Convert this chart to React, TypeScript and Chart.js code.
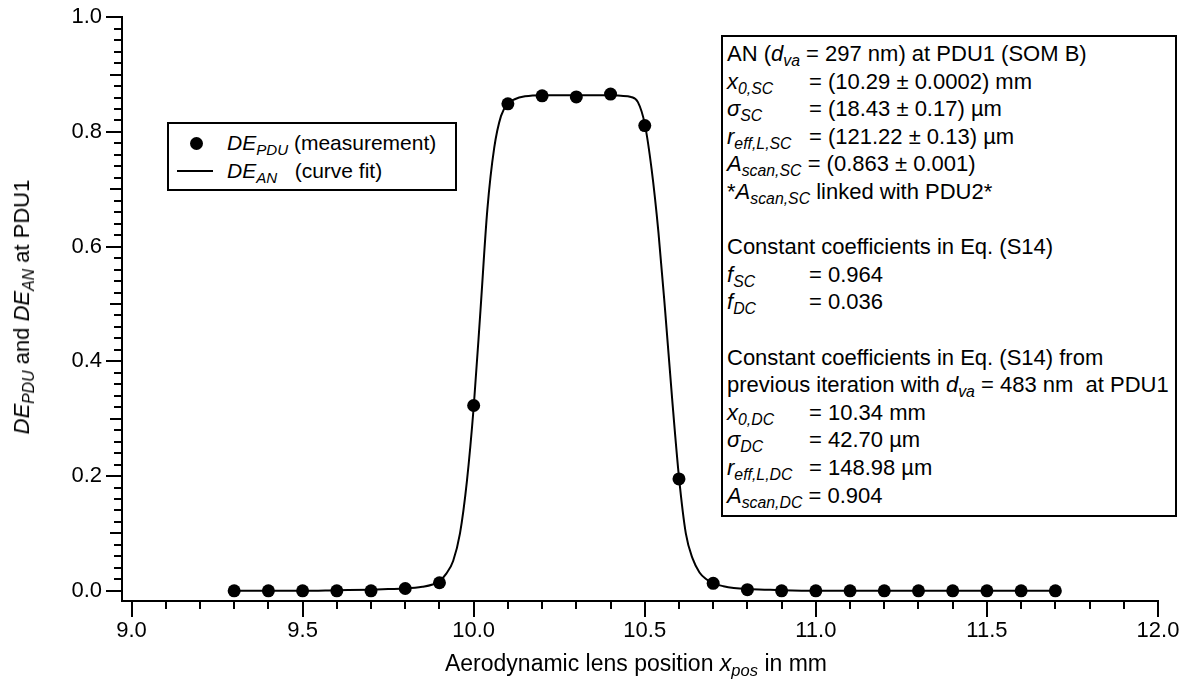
import React, { useEffect, useRef } from "react";
import { Chart, registerables } from "chart.js";

Chart.register(...registerables);

// ---- data ----
const lensPositions = [9.3, 9.4, 9.5, 9.6, 9.7, 9.8, 9.9, 10.0, 10.1, 10.2, 10.3, 10.4, 10.5, 10.6, 10.7, 10.8, 10.9, 11.0, 11.1, 11.2, 11.3, 11.4, 11.5, 11.6, 11.7];
const dePduMeasured = [0.0, 0.0, 0.0, 0.0, 0.0, 0.004, 0.014, 0.323, 0.849, 0.863, 0.861, 0.866, 0.811, 0.195, 0.013, 0.002, 0.0, 0.0, 0.0, 0.0, 0.0, 0.0, 0.0, 0.0, 0.0];

const fitPositions = [9.3, 9.4, 9.5, 9.6, 9.7, 9.75, 9.8, 9.85, 9.88, 9.9, 9.92, 9.94, 9.96, 9.98, 10.0, 10.02, 10.04, 10.06, 10.08, 10.1, 10.12, 10.15, 10.2, 10.25, 10.3, 10.35, 10.4, 10.43, 10.46, 10.48, 10.5, 10.52, 10.54, 10.56, 10.58, 10.6, 10.62, 10.64, 10.66, 10.68, 10.7, 10.73, 10.76, 10.8, 10.85, 10.9, 11.0, 11.2, 11.4, 11.6, 11.7];
const deAnFit = [0.0, 0.0, 0.0, 0.001, 0.002, 0.003, 0.004, 0.007, 0.011, 0.017, 0.03, 0.052, 0.1, 0.19, 0.32, 0.49, 0.665, 0.772, 0.828, 0.849, 0.857, 0.862, 0.864, 0.864, 0.864, 0.864, 0.864, 0.863, 0.861, 0.852, 0.814, 0.735, 0.625, 0.485, 0.335, 0.198, 0.1, 0.056, 0.032, 0.02, 0.013, 0.008, 0.005, 0.003, 0.002, 0.001, 0.0, 0.0, 0.0, 0.0, 0.0];

const xTickValues = [9.0, 9.5, 10.0, 10.5, 11.0, 11.5, 12.0];
const yTickValues = [0.0, 0.2, 0.4, 0.6, 0.8, 1.0];

const FONT = "'Liberation Sans', Arial, sans-serif";

const minorTicks = {
  id: "minorTicks",
  afterDraw(chart: any) {
    const { ctx, chartArea, scales } = chart;
    const x = scales.x;
    const y = scales.y;
    ctx.save();
    ctx.strokeStyle = "#000";
    ctx.lineWidth = 2;
    ctx.beginPath();
    for (let i = 90; i <= 120; i++) {
      if (i % 5 === 0) continue;
      const px = Math.round(x.getPixelForValue(i / 10));
      ctx.moveTo(px, chartArea.bottom);
      ctx.lineTo(px, chartArea.bottom + 8);
    }
    for (let i = 0; i <= 50; i++) {
      if (i % 10 === 0) continue;
      const len = i % 5 === 0 ? 12 : 8;
      const py = Math.round(y.getPixelForValue(i / 50));
      ctx.moveTo(chartArea.left - len, py);
      ctx.lineTo(chartArea.left, py);
    }
    ctx.stroke();
    ctx.restore();
  },
};

const subStyle: React.CSSProperties = { fontSize: "0.72em", verticalAlign: "-0.32em", lineHeight: 0 };

function Lbl({ main, sub, width }: { main: string; sub: string; width?: number }) {
  return (
    <span style={{ display: "inline-block", width: width, fontStyle: "italic" }}>
      {main}
      <span style={subStyle}>{sub}</span>
    </span>
  );
}

export default function App() {
  const canvasRef = useRef<HTMLCanvasElement | null>(null);

  useEffect(() => {
    const canvas = canvasRef.current;
    if (!canvas) return;
    const chart = new Chart(canvas, {
      type: "scatter",
      data: {
        datasets: [
          {
            label: "DE_PDU (measurement)",
            data: lensPositions.map((x, i) => ({ x, y: dePduMeasured[i] })),
            showLine: false,
            pointRadius: 6.5,
            pointStyle: "circle",
            backgroundColor: "#000",
            borderColor: "#000",
            borderWidth: 0,
            order: 1,
          },
          {
            label: "DE_AN (curve fit)",
            data: fitPositions.map((x, i) => ({ x, y: deAnFit[i] })),
            showLine: true,
            pointRadius: 0,
            borderColor: "#000",
            borderWidth: 2,
            cubicInterpolationMode: "monotone",
            order: 2,
          },
        ],
      },
      options: {
        responsive: false,
        animation: false,
        events: [],
        layout: { padding: { top: 13, right: 25, left: 0, bottom: 0 } },
        plugins: { legend: { display: false }, tooltip: { enabled: false } },
        scales: {
          x: {
            type: "linear",
            min: 8.9722,
            max: 12.0,
            afterBuildTicks: (s: any) => {
              s.ticks = xTickValues.map((v) => ({ value: v }));
            },
            afterFit: (s: any) => {
              s.height = 88;
            },
            ticks: {
              callback: (v: any) => Number(v).toFixed(1),
              font: { family: FONT, size: 22 },
              color: "#000",
              padding: 1,
              maxRotation: 0,
              autoSkip: false,
            },
            grid: { drawOnChartArea: false, drawTicks: true, tickLength: 16, color: "#000", lineWidth: 2 },
            border: { display: true, color: "#000", width: 2 },
          },
          y: {
            type: "linear",
            min: -0.0178,
            max: 1.0,
            afterBuildTicks: (s: any) => {
              s.ticks = yTickValues.map((v) => ({ value: v }));
            },
            afterFit: (s: any) => {
              s.width = 122;
            },
            ticks: {
              callback: (v: any) => Number(v).toFixed(1),
              font: { family: FONT, size: 22 },
              color: "#000",
              padding: 4,
              autoSkip: false,
            },
            grid: { drawOnChartArea: false, drawTicks: true, tickLength: 16, color: "#000", lineWidth: 2 },
            border: { display: true, color: "#000", width: 2 },
          },
        },
      },
      plugins: [minorTicks],
    });
    return () => chart.destroy();
  }, []);

  const textStyle: React.CSSProperties = { fontFamily: FONT, fontSize: 22, color: "#000", whiteSpace: "nowrap" };
  const LW = 82;

  return (
    <div style={{ position: "fixed", left: 0, top: 0, width: 1183, height: 689, background: "#fff", overflow: "hidden" }}>
      <canvas ref={canvasRef} width={1183} height={689} style={{ position: "absolute", left: 0, top: 0, width: 1183, height: 689 }} />

      {/* y axis title */}
      <div
        style={{
          ...textStyle,
          position: "absolute",
          left: 22,
          top: 307,
          transform: "translate(-50%, -50%) rotate(-90deg)",
        }}
      >
        <Lbl main="DE" sub="PDU" /> and <Lbl main="DE" sub="AN" /> at PDU1
      </div>

      {/* x axis title */}
      <div style={{ ...textStyle, fontSize: 23, position: "absolute", left: 636, top: 663, transform: "translate(-50%, -50%)" }}>
        Aerodynamic lens position <Lbl main="x" sub="pos" /> in mm
      </div>

      {/* legend */}
      <div
        style={{
          ...textStyle,
          fontSize: 21,
          position: "absolute",
          left: 167,
          top: 122,
          width: 290,
          height: 69,
          boxSizing: "border-box",
          border: "2px solid #000",
          background: "#fff",
        }}
      >
        <div style={{ position: "absolute", left: 21, top: 13, width: 13, height: 13, borderRadius: "50%", background: "#000" }} />
        <div style={{ position: "absolute", left: 8, top: 46, width: 36, height: 2, background: "#000" }} />
        <div style={{ position: "absolute", left: 58, top: 5, lineHeight: "27px", whiteSpace: "pre" }}>
          <Lbl main="DE" sub="PDU" />{" (measurement)"}
        </div>
        <div style={{ position: "absolute", left: 58, top: 33, lineHeight: "27px", whiteSpace: "pre" }}>
          <Lbl main="DE" sub="AN" />{"   (curve fit)"}
        </div>
      </div>

      {/* info box */}
      <div
        style={{
          ...textStyle,
          position: "absolute",
          left: 721,
          top: 35,
          width: 456,
          boxSizing: "border-box",
          border: "2px solid #000",
          background: "#fff",
          padding: "3px 4px 6px 4px",
          lineHeight: "27.6px",
        }}
      >
        <div>
          AN (<Lbl main="d" sub="va" /> = 297 nm) at PDU1 (SOM B)
        </div>
        <div>
          <Lbl main="x" sub="0,SC" width={LW} />= (10.29 ± 0.0002) mm
        </div>
        <div>
          <Lbl main="σ" sub="SC" width={LW} />= (18.43 ± 0.17) µm
        </div>
        <div>
          <Lbl main="r" sub="eff,L,SC" width={LW} />= (121.22 ± 0.13) µm
        </div>
        <div>
          <Lbl main="A" sub="scan,SC" /> = (0.863 ± 0.001)
        </div>
        <div>
          *<Lbl main="A" sub="scan,SC" /> linked with PDU2*
        </div>
        <div>&nbsp;</div>
        <div>Constant coefficients in Eq. (S14)</div>
        <div>
          <Lbl main="f" sub="SC" width={LW} />= 0.964
        </div>
        <div>
          <Lbl main="f" sub="DC" width={LW} />= 0.036
        </div>
        <div>&nbsp;</div>
        <div>Constant coefficients in Eq. (S14) from</div>
        <div>
          previous iteration with <Lbl main="d" sub="va" /> = 483 nm&nbsp; at PDU1
        </div>
        <div>
          <Lbl main="x" sub="0,DC" width={LW} />= 10.34 mm
        </div>
        <div>
          <Lbl main="σ" sub="DC" width={LW} />= 42.70 µm
        </div>
        <div>
          <Lbl main="r" sub="eff,L,DC" width={LW} />= 148.98 µm
        </div>
        <div>
          <Lbl main="A" sub="scan,DC" /> = 0.904
        </div>
      </div>
    </div>
  );
}
